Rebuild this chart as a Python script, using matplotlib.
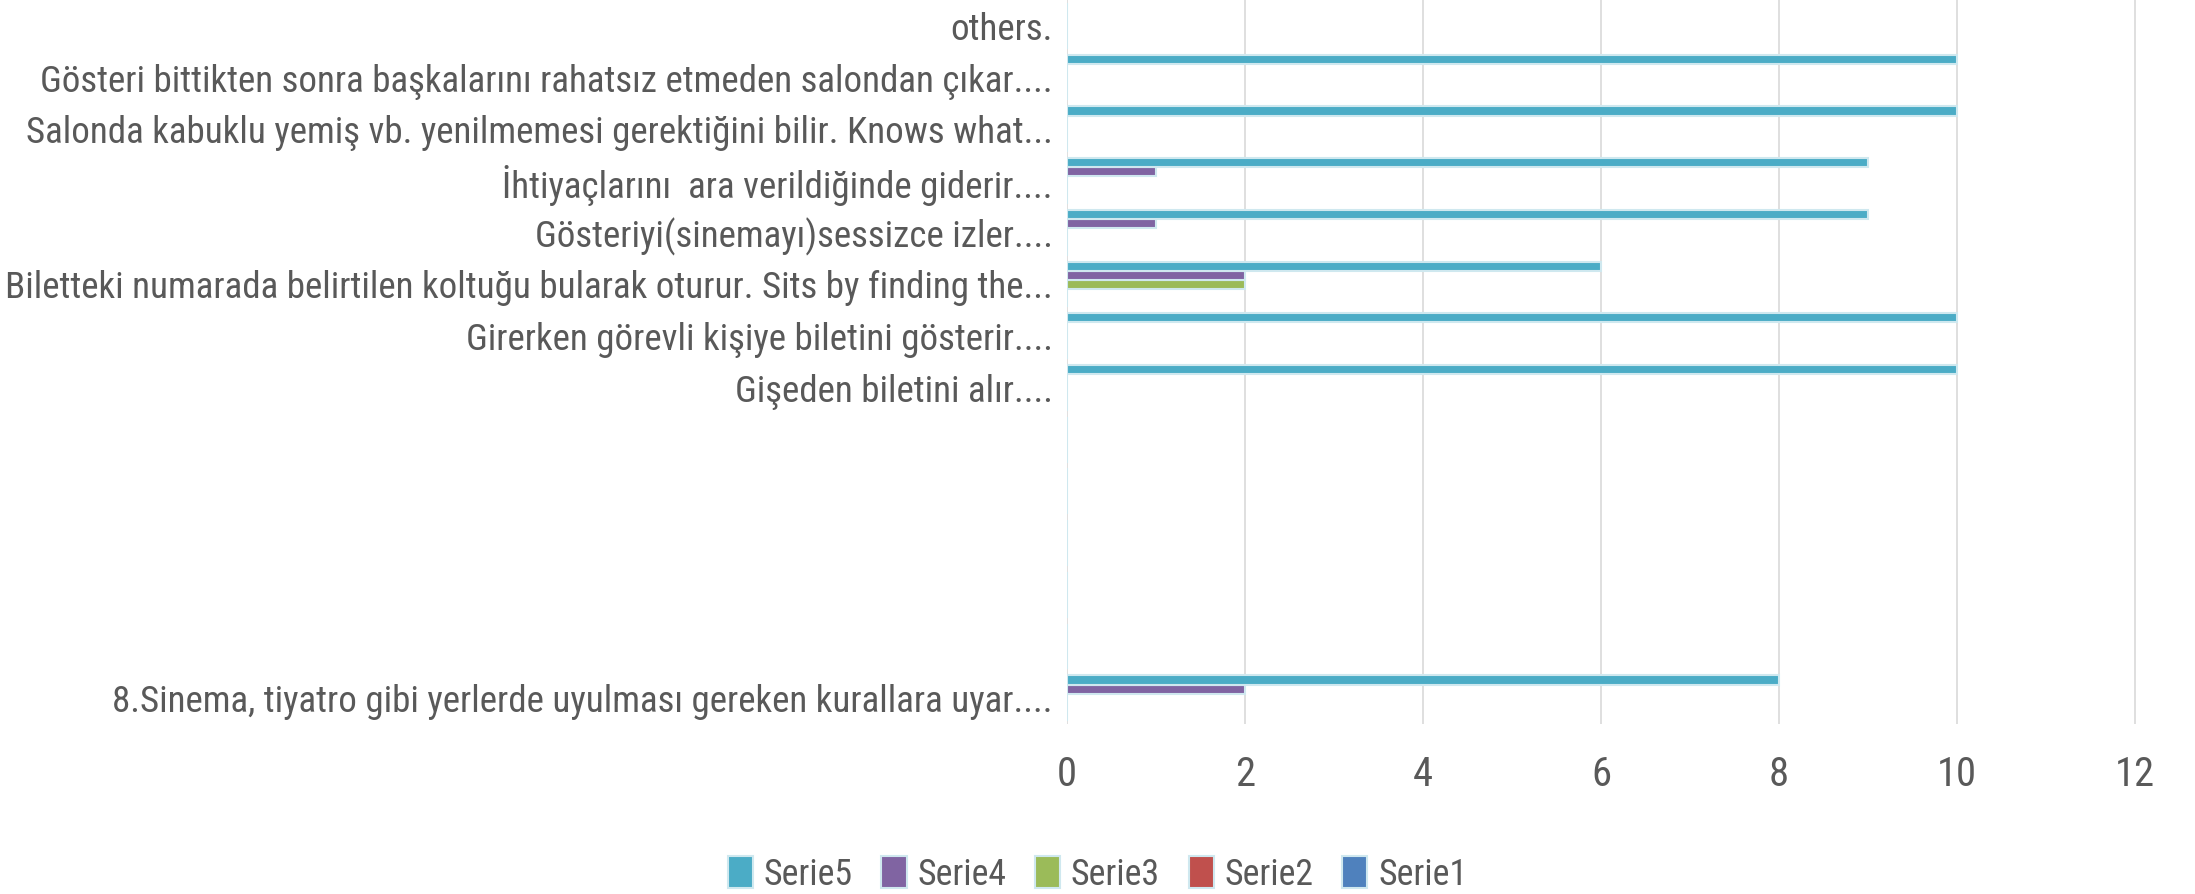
import numpy as np
import matplotlib.pyplot as plt
from matplotlib import font_manager

names = {f.name for f in font_manager.fontManager.ttflist}
fam = 'DejaVu Sans'
stretch = 'condensed'
for cand in ['Roboto Condensed', 'Open Sans Condensed', 'Liberation Sans Narrow', 'Arial Narrow']:
    if cand in names:
        fam, stretch = cand, 'normal'
        break
plt.rcParams['font.family'] = [fam, 'DejaVu Sans']
plt.rcParams['font.stretch'] = stretch

# categories from bottom to top
categories = ['8.Sinema, tiyatro gibi yerlerde uyulması gereken kurallara uyar....',
              '', '', '', '', '',
              'Gişeden biletini alır....',
              'Girerken görevli kişiye biletini gösterir....',
              'Biletteki numarada belirtilen koltuğu bularak oturur. Sits by finding the...',
              'Gösteriyi(sinemayı)sessizce izler....',
              'İhtiyaçlarını  ara verildiğinde giderir....',
              'Salonda kabuklu yemiş vb. yenilmemesi gerektiğini bilir. Knows what...',
              'Gösteri bittikten sonra başkalarını rahatsız etmeden salondan çıkar....',
              'others.']

serie1 = [0, 0, 0, 0, 0, 0, 0, 0, 0, 0, 0, 0, 0, 0]
serie2 = [0, 0, 0, 0, 0, 0, 0, 0, 0, 0, 0, 0, 0, 0]
serie3 = [0, 0, 0, 0, 0, 0, 0, 0, 2, 0, 0, 0, 0, 0]
serie4 = [2, 0, 0, 0, 0, 0, 0, 0, 2, 1, 1, 0, 0, 0]
serie5 = [8, 0, 0, 0, 0, 0, 10, 10, 6, 9, 9, 10, 10, 0]

series = [('Serie1', serie1, '#4F81BD'),
          ('Serie2', serie2, '#C0504D'),
          ('Serie3', serie3, '#9BBB59'),
          ('Serie4', serie4, '#8064A2'),
          ('Serie5', serie5, '#4BACC6')]

fig = plt.figure(figsize=(21.95, 8.94), dpi=100)

# size the label font so the longest label spans ~1046 px like the reference
probe = fig.text(0, 0, max(categories, key=len), fontsize=20)
fig.canvas.draw()
w = probe.get_window_extent().width
probe.remove()
fs = min(30, 20 * 1046 / w)

ax = fig.add_axes([0.486, 0.19, 0.49, 0.81])

y = np.arange(len(categories))
h = 0.177
handles = []
for i, (name, vals, col) in enumerate(series):
    b = ax.barh(y + (i - 2) * h, vals, height=h, color=col,
                edgecolor='#cfe8ef', linewidth=1.5, label=name)
    handles.append(b)

ax.set_xlim(0, 12.08)
ax.set_ylim(-0.5, 13.5)
ax.set_xticks(range(0, 13, 2))
ax.set_yticks(y)
ax.set_yticklabels(categories)
ax.tick_params(axis='both', length=0, colors='#595959', labelsize=fs)
ax.tick_params(axis='x', pad=22, labelsize=fs * 1.1)
ax.tick_params(axis='y', pad=10)
ax.grid(axis='x', color='#d9d9d9', linewidth=1.2)
ax.set_axisbelow(True)
for s in ax.spines.values():
    s.set_visible(False)

fig.legend(handles[::-1], [s[0] for s in series][::-1], loc='center',
           bbox_to_anchor=(0.5, 0.022), ncol=5, frameon=False, fontsize=fs * 0.97,
           labelcolor='#595959', handlelength=0.7, handleheight=1.0,
           handletextpad=0.3, columnspacing=0.8)

fig.savefig('out.png', dpi=100)
